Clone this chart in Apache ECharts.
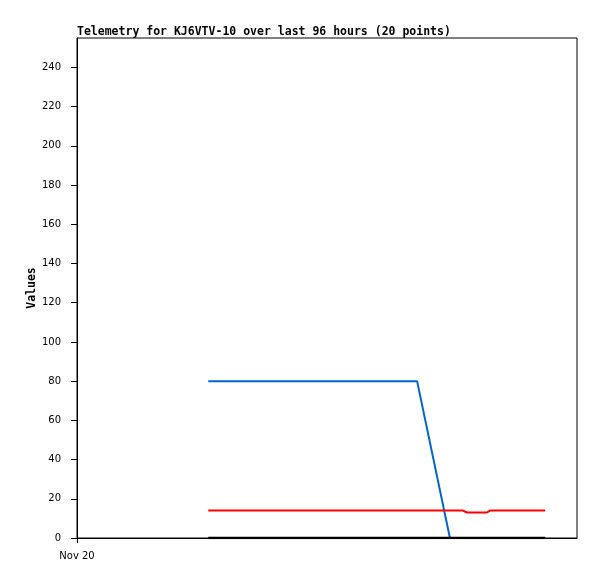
<!DOCTYPE html>
<html><head><meta charset="utf-8">
<script src="https://cdn.jsdelivr.net/npm/echarts@6/dist/echarts.min.js"></script>
<style>html,body{margin:0;padding:0;background:#fff}#c{width:597px;height:579px}</style>
</head><body><div id="c"></div>
<script>
// hours since Nov 20 00:00
const hours = [25.2, 29.4, 33.2, 37.1, 40.9, 44.7, 48.6, 52.4, 56.3, 61.1, 65.3, 71.6, 74.1, 74.9, 78.7, 79.3, 82.2, 85.1, 87.9, 89.9];
const blueVals = [80, 80, 80, 80, 80, 80, 80, 80, 80, 80, 80, 0, 0, 0, 0, 0, 0, 0, 0, 0];
const redVals  = [14, 14, 14, 14, 14, 14, 14, 14, 14, 14, 14, 14, 14, 13, 13, 14, 14, 14, 14, 14];
const blackVals = [0, 0, 0, 0, 0, 0, 0, 0, 0, 0, 0, 0, 0, 0, 0, 0, 0, 0, 0, 0];
const yTicks = [0, 20, 40, 60, 80, 100, 120, 140, 160, 180, 200, 220, 240];
const xTickLabel = 'Nov 20';
const titleText = 'Telemetry for KJ6VTV-10 over last 96 hours (20 points)';

const pair = v => hours.map((h, i) => [h, v[i]]);
const chart = echarts.init(document.getElementById('c'), null, {renderer: 'canvas'});
chart.setOption({
  animation: false,
  backgroundColor: '#fff',
  title: {text: titleText, left: 77, top: 26, padding: 0,
    textStyle: {fontFamily: 'DejaVu Sans Mono', fontWeight: 'bold', fontSize: 11.5, color: '#000'}},
  grid: {left: 77, top: 38, right: 20, bottom: 41, show: true, borderColor: '#000', borderWidth: 1, containLabel: false},
  xAxis: {type: 'value', min: 0, max: 96, splitLine: {show: false},
    axisLine: {lineStyle: {color: '#000', width: 1}},
    axisTick: {customValues: [0], length: 5, inside: false, lineStyle: {color: '#000'}},
    axisLabel: {customValues: [0], formatter: () => xTickLabel, margin: 13,
      fontFamily: 'DejaVu Sans', fontSize: 10, color: '#000'}},
  yAxis: {type: 'value', min: 0, max: 255, name: 'Values', nameLocation: 'middle', nameGap: 39, nameMoveOverlap: false,
    nameTextStyle: {fontFamily: 'DejaVu Sans Mono', fontWeight: 'bold', fontSize: 11.5, color: '#000'},
    splitLine: {show: false},
    axisLine: {show: true, lineStyle: {color: '#000', width: 1}},
    axisTick: {customValues: yTicks, length: 6, lineStyle: {color: '#000'}},
    axisLabel: {customValues: yTicks, margin: 16, fontFamily: 'DejaVu Sans', fontSize: 10, color: '#000'}},
  series: [
    {type: 'line', data: pair(blueVals), showSymbol: false, lineStyle: {color: '#0066cc', width: 2}, z: 3},
    {type: 'line', data: pair(redVals), showSymbol: false, lineStyle: {color: '#ff0000', width: 2}, z: 4},
    {type: 'line', data: pair(blackVals), showSymbol: false, lineStyle: {color: '#000', width: 2.5}, z: 5}
  ]
});
</script></body></html>
